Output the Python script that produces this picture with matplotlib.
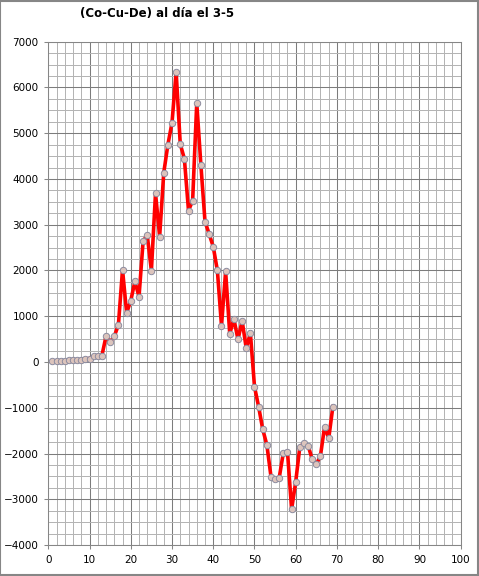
import numpy as np
import matplotlib
matplotlib.use("Agg")
import matplotlib.pyplot as plt
from matplotlib.ticker import MultipleLocator

# dia (x) y valor (Co-Cu-De)
dias = list(range(1, 70))
valores = [20, 20, 20, 15, 40, 40, 45, 50, 70, 75,
           120, 140, 140, 560, 440, 560, 810, 2015, 1075, 1340,
           1760, 1428, 2651, 2765, 1998, 3686, 2742, 4137, 4750, 5230,
           6340, 4764, 4440, 3310, 3525, 5660, 4308, 3067, 2800, 2520,
           2000, 794, 1978, 615, 940, 492, 903, 299, 635, -539,
           -976, -1471, -1814, -2506, -2549, -2528, -1981, -1959, -3220, -2615,
           -1850, -1777, -1828, -2127, -2236, -2047, -1413, -1668, -976]
titulo = "(Co-Cu-De) al día el 3-5"

fig = plt.figure(figsize=(4.79, 5.76), dpi=100)
ax = fig.add_axes([0.1008, 0.0538, 0.861, 0.8738])

ax.plot(dias, valores, color="#ff0000", lw=2.6, zorder=3,
        marker="o", ms=4.6, mfc="#dcc4bc", mec="#8c8ca0", mew=0.7)

ax.set_xlim(0, 100)
ax.set_ylim(-4000, 7000)
ax.xaxis.set_major_locator(MultipleLocator(10))
ax.xaxis.set_minor_locator(MultipleLocator(2))
ax.yaxis.set_major_locator(MultipleLocator(1000))
ax.yaxis.set_minor_locator(MultipleLocator(250))
ax.grid(which="major", color="#7c7c7c", lw=0.75)
ax.grid(which="minor", color="#b4b4b4", lw=0.72)
ax.set_axisbelow(True)
for s in ax.spines.values():
    s.set_color("#868686")
    s.set_linewidth(0.75)
ax.tick_params(which="major", length=3, width=0.75, color="#868686",
               labelsize=7.5, pad=4)
ax.tick_params(which="minor", length=0)

fig.text(157 / 479, 1 - 13 / 576, titulo, ha="center", va="center",
         fontsize=8.5, fontweight="bold")

# borde exterior
fig.patches.append(plt.Rectangle((0.001, 0.001), 0.997, 0.997, transform=fig.transFigure,
                                 fill=False, ec="#868686", lw=1.5))

fig.savefig("out.png", dpi=100)
